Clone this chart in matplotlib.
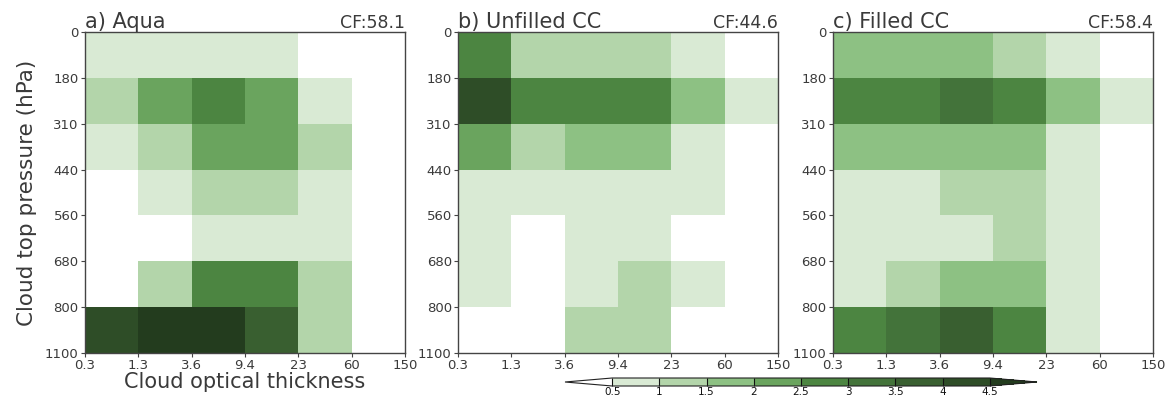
import numpy as np
import matplotlib
matplotlib.use("Agg")
import matplotlib.pyplot as plt
from matplotlib.colors import ListedColormap, BoundaryNorm

# Bin edges
tau_labels = ["0.3", "1.3", "3.6", "9.4", "23", "60", "150"]
ctp_labels = ["0", "180", "310", "440", "560", "680", "800", "1100"]

# Values (%), rows top (0-180 hPa) to bottom (800-1100 hPa), cols tau bins
aqua = [
    [0.75, 0.75, 0.75, 0.75, 0.25, 0.25],
    [1.25, 2.25, 2.75, 2.25, 0.75, 0.25],
    [0.75, 1.25, 2.25, 2.25, 1.25, 0.25],
    [0.25, 0.75, 1.25, 1.25, 0.75, 0.25],
    [0.25, 0.25, 0.75, 0.75, 0.75, 0.25],
    [0.25, 1.25, 2.75, 2.75, 1.25, 0.25],
    [4.25, 4.75, 4.75, 3.75, 1.25, 0.25],
]
unfilled = [
    [2.75, 1.25, 1.25, 1.25, 0.75, 0.25],
    [4.25, 2.75, 2.75, 2.75, 1.75, 0.75],
    [2.25, 1.25, 1.75, 1.75, 0.75, 0.25],
    [0.75, 0.75, 0.75, 0.75, 0.75, 0.25],
    [0.75, 0.25, 0.75, 0.75, 0.25, 0.25],
    [0.75, 0.25, 0.75, 1.25, 0.75, 0.25],
    [0.25, 0.25, 1.25, 1.25, 0.25, 0.25],
]
filled = [
    [1.75, 1.75, 1.75, 1.25, 0.75, 0.25],
    [2.75, 2.75, 3.25, 2.75, 1.75, 0.75],
    [1.75, 1.75, 1.75, 1.75, 0.75, 0.25],
    [0.75, 0.75, 1.25, 1.25, 0.75, 0.25],
    [0.75, 0.75, 0.75, 1.25, 0.75, 0.25],
    [0.75, 1.25, 1.75, 1.75, 0.75, 0.25],
    [2.75, 3.25, 3.75, 2.75, 0.75, 0.25],
]
titles = ["a) Aqua", "b) Unfilled CC", "c) Filled CC"]
cf_values = ["CF:58.1", "CF:44.6", "CF:58.4"]
levels = [0.5, 1, 1.5, 2, 2.5, 3, 3.5, 4, 4.5]
level_labels = ["0.5", "1", "1.5", "2", "2.5", "3", "3.5", "4", "4.5"]

colors = ["#d9ead4", "#b3d5aa", "#8dc183", "#6aa45e", "#4c8541",
          "#43733a", "#395f30", "#2e4d27"]
cmap = ListedColormap(colors)
cmap.set_under("#ffffff")
cmap.set_over("#233c1e")
norm = BoundaryNorm(levels, cmap.N)

txt = "#3a3a3a"
plt.rcParams["font.family"] = ["DejaVu Sans"]
fig = plt.figure(figsize=(11.76, 3.98), dpi=100)
W, H = 1176.0, 398.0
lefts = [85, 458, 833]
aw, ah = 320, 321
top = 32

mesh = None
for i, data in enumerate([aqua, unfilled, filled]):
    ax = fig.add_axes([lefts[i] / W, (H - top - ah) / H, aw / W, ah / H])
    arr = np.array(data)
    mesh = ax.pcolormesh(np.arange(len(tau_labels)), np.arange(len(ctp_labels)),
                         arr, cmap=cmap, norm=norm)
    ax.set_xlim(0, len(tau_labels) - 1)
    ax.set_ylim(len(ctp_labels) - 1, 0)
    ax.set_xticks(np.arange(len(tau_labels)))
    ax.set_xticklabels(tau_labels)
    ax.set_yticks(np.arange(len(ctp_labels)))
    ax.set_yticklabels(ctp_labels)
    ax.tick_params(direction="out", length=3, width=0.8, labelsize=9.5,
                   colors="#444444", labelcolor=txt, pad=1.5)
    for s in ax.spines.values():
        s.set_color("#444444")
        s.set_linewidth(1.0)
    ax.set_title(titles[i], loc="left", fontsize=15, color=txt, pad=0.5)
    ax.set_title(cf_values[i], loc="right", fontsize=12.5, color=txt, pad=2)
    if i == 0:
        ax.set_ylabel("Cloud top pressure (hPa)", fontsize=15.5, color=txt, labelpad=6)
        ax.set_xlabel("Cloud optical thickness", fontsize=15, color=txt, labelpad=0)

cax = fig.add_axes([565 / W, (H - 386) / H, 472 / W, 8 / H])
cb = fig.colorbar(mesh, cax=cax, orientation="horizontal", extend="both",
                  extendfrac=0.125, drawedges=True, ticks=levels)
cb.set_ticklabels(level_labels)
cb.outline.set_linewidth(0.8)
cb.outline.set_edgecolor("#222222")
cb.dividers.set_color("#111111")
cb.dividers.set_linewidth(0.8)
cax.tick_params(length=0, labelsize=7.5, pad=0.5, labelcolor="#111111")

fig.savefig("out.png", dpi=100)
